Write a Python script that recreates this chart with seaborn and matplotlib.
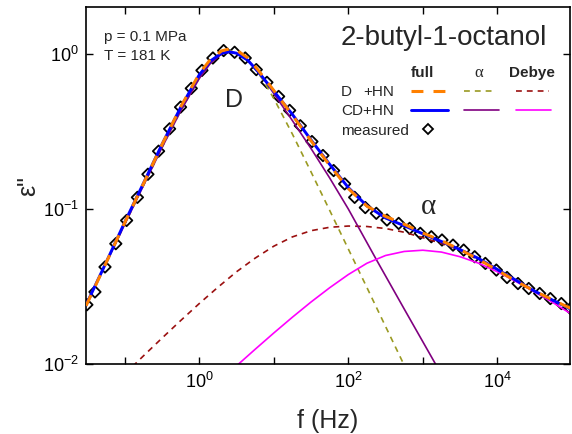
import numpy as np
import matplotlib
matplotlib.use("Agg")
import matplotlib.pyplot as plt
from matplotlib.lines import Line2D
from matplotlib.ticker import FixedLocator, FixedFormatter, NullLocator
import seaborn as sns

# ---- data: log10 of frequency (Hz) and log10 of dielectric loss ----
lg_f_meas = [-1.508, -1.400, -1.265, -1.120, -0.975, -0.830, -0.689, -0.546, -0.398, -0.251,
             -0.107, 0.036, 0.183, 0.327, 0.474, 0.617, 0.765, 0.908, 1.065, 1.213,
             1.356, 1.512, 1.660, 1.803, 1.951, 2.085, 2.228, 2.376, 2.519, 2.676,
             2.823, 2.966, 3.114, 3.257, 3.405, 3.548, 3.696, 3.839, 3.987, 4.130,
             4.277, 4.421, 4.568, 4.711, 4.859, 4.980]
lg_eps_meas = [-1.618, -1.535, -1.374, -1.224, -1.074, -0.925, -0.776, -0.627, -0.483, -0.343,
               -0.222, -0.106, -0.026, 0.022, 0.011, -0.026, -0.101, -0.183, -0.274, -0.364,
               -0.463, -0.565, -0.655, -0.752, -0.838, -0.925, -0.991, -1.028, -1.071, -1.093,
               -1.125, -1.157, -1.179, -1.200, -1.233, -1.265, -1.308, -1.351, -1.394, -1.442,
               -1.481, -1.513, -1.545, -1.578, -1.610, -1.642]

# full fits
lg_f_full = [-1.52, -1.25, -1.0, -0.75, -0.5, -0.25, 0.0, 0.15, 0.3, 0.4, 0.5, 0.65, 0.8, 1.0,
             1.25, 1.5, 1.75, 2.0, 2.25, 2.5, 2.75, 3.0, 3.25, 3.5, 3.75, 4.0, 4.25, 4.5, 4.75, 5.0]
lg_eps_full_d = [-1.625, -1.347, -1.088, -0.838, -0.585, -0.342, -0.128, -0.035, 0.020, 0.032,
                 0.025, -0.025, -0.110, -0.236, -0.395, -0.560, -0.718, -0.868, -0.982, -1.048,
                 -1.098, -1.155, -1.205, -1.262, -1.325, -1.395, -1.465, -1.530, -1.588, -1.645]
lg_eps_full_cd = [-1.620, -1.345, -1.085, -0.835, -0.583, -0.345, -0.135, -0.045, 0.005, 0.014,
                  0.005, -0.040, -0.120, -0.240, -0.390, -0.555, -0.712, -0.862, -0.980, -1.058,
                  -1.108, -1.160, -1.210, -1.262, -1.320, -1.390, -1.460, -1.530, -1.590, -1.650]

# main (D / CD) relaxation
lg_f_main_d = [-1.52, -1.25, -1.0, -0.75, -0.5, -0.25, 0.0, 0.15, 0.3, 0.42, 0.55, 0.7, 0.85,
               1.0, 1.25, 1.5, 1.75, 2.0, 2.25, 2.5, 2.75, 3.0]
lg_eps_main_d = [-1.618, -1.348, -1.099, -0.850, -0.604, -0.367, -0.156, -0.058, 0.005, 0.021,
                 0.002, -0.063, -0.164, -0.287, -0.517, -0.761, -1.009, -1.258, -1.507, -1.758,
                 -2.008, -2.258]
lg_f_main_cd = [-1.52, -1.25, -1.0, -0.75, -0.5, -0.25, 0.0, 0.15, 0.3, 0.42, 0.55, 0.7, 0.85,
                1.0, 1.25, 1.5, 1.75, 2.0, 2.385, 2.75, 3.17, 3.3]
lg_eps_main_cd = [-1.618, -1.348, -1.099, -0.850, -0.604, -0.368, -0.158, -0.060, 0.000, 0.015,
                  -0.002, -0.065, -0.150, -0.255, -0.430, -0.610, -0.800, -1.000, -1.334, -1.645,
                  -2.000, -2.110]

# secondary HN relaxation
lg_f_hn_d = [-1.0, -0.75, -0.5, -0.25, 0.0, 0.25, 0.5, 0.75, 1.0, 1.25, 1.5, 1.75, 2.0, 2.25,
             2.5, 2.75, 3.0, 3.25, 3.5, 3.75, 4.0, 4.25, 4.5, 4.75, 5.0]
lg_eps_hn_d = [-2.065, -1.948, -1.833, -1.720, -1.610, -1.505, -1.405, -1.317, -1.240, -1.180,
               -1.140, -1.118, -1.110, -1.113, -1.126, -1.150, -1.185, -1.222, -1.265, -1.330,
               -1.400, -1.465, -1.530, -1.590, -1.650]
lg_f_hn_cd = [0.5, 0.75, 1.0, 1.25, 1.5, 1.75, 2.0, 2.25, 2.5, 2.75, 3.0, 3.25, 3.5, 3.75, 4.0,
              4.25, 4.5, 4.75, 5.0]
lg_eps_hn_cd = [-2.012, -1.905, -1.800, -1.698, -1.600, -1.508, -1.423, -1.350, -1.300, -1.274,
                -1.266, -1.278, -1.308, -1.350, -1.405, -1.468, -1.535, -1.605, -1.680]

# ---- styling ----
sns.set_style("ticks")
plt.rcParams["font.family"] = ["Liberation Sans", "DejaVu Sans"]
plt.rcParams["mathtext.fontset"] = "custom"
plt.rcParams["mathtext.rm"] = "Liberation Sans"
plt.rcParams["mathtext.it"] = "Liberation Sans:italic"
plt.rcParams["mathtext.bf"] = "Liberation Sans:bold"

W, H = 572, 434
fig = plt.figure(figsize=(W / 100, H / 100), dpi=100)
fig.patch.set_facecolor("white")
ax = fig.add_axes([86 / W, 1 - 364 / H, 484 / W, 357 / H])
ax.set_xscale("log")
ax.set_yscale("log")


def px(x, y):
    return x / W, 1 - y / H


def curve(lgx, lgy, color, lw, dashes=None, z=2):
    sns.lineplot(x=10 ** np.asarray(lgx), y=10 ** np.asarray(lgy), ax=ax, sort=False,
                 estimator=None, color=color, linewidth=lw, zorder=z)
    line = ax.lines[-1]
    if dashes is not None:
        line.set_dashes(dashes)
        line.set_dash_capstyle("butt")
    return line


C_ORANGE = "#FF8000"
C_OLIVE = "#9A9A22"
C_DRED = "#9B1010"
C_BLUE = "#0000FF"
C_PURPLE = "#800080"
C_MAGENTA = "#FF00FF"

sns.scatterplot(x=10 ** np.asarray(lg_f_meas), y=10 ** np.asarray(lg_eps_meas), ax=ax,
                marker="D", s=34, zorder=1.5)
pts = ax.collections[-1]
pts.set_facecolor("none")
pts.set_edgecolor("black")
pts.set_linewidth(1.3)

curve(lg_f_main_d, lg_eps_main_d, C_OLIVE, 1.2, dashes=(3.5, 3), z=2)
curve(lg_f_hn_d, lg_eps_hn_d, C_DRED, 1.2, dashes=(3.5, 3), z=2)
curve(lg_f_main_cd, lg_eps_main_cd, C_PURPLE, 1.2, z=2.1)
curve(lg_f_hn_cd, lg_eps_hn_cd, C_MAGENTA, 1.2, z=2.1)
curve(lg_f_full, lg_eps_full_cd, C_BLUE, 2.1, z=3)
curve(lg_f_full, lg_eps_full_d, C_ORANGE, 2.2, dashes=(3.9, 3.3), z=3.5)

ax.set_xlim(10 ** -1.52, 10 ** 4.975)
ax.set_ylim(0.01, 10 ** 0.303)

ax.xaxis.set_major_locator(FixedLocator([1e-1, 1, 10, 100, 1e3, 1e4]))
ax.xaxis.set_major_formatter(FixedFormatter(["", "$10^0$", "", "$10^2$", "", "$10^4$"]))
ax.yaxis.set_major_locator(FixedLocator([0.01, 0.1, 1]))
ax.yaxis.set_major_formatter(FixedFormatter(["$10^{-2}$", "$10^{-1}$", "$10^0$"]))
ax.xaxis.set_minor_locator(NullLocator())
ax.yaxis.set_minor_locator(NullLocator())
ax.tick_params(which="major", direction="in", top=True, right=True, length=5, width=1.0,
               labelsize=13, colors="black")
ax.tick_params(axis="x", pad=6)
ax.tick_params(axis="y", pad=5)
for s in ax.spines.values():
    s.set_linewidth(1.2)
    s.set_color("black")
ax.set_xlabel("")
ax.set_ylabel("")

# axis titles
fig.text(*px(328, 421), "f (Hz)", fontsize=18, ha="center", va="center")
fig.text(*px(28, 186), "ε\"", fontsize=18, ha="center", va="center", rotation=90)

# annotations
fig.text(*px(104, 41), "p = 0.1 MPa", fontsize=11, ha="left", va="baseline")
fig.text(*px(104, 60), "T = 181 K", fontsize=11, ha="left", va="baseline")
fig.text(*px(341, 45), "2-butyl-1-octanol", fontsize=20, ha="left", va="baseline")
fig.text(*px(225, 107), "D", fontsize=18, ha="left", va="baseline")
fig.text(*px(421, 214), "α", fontsize=21, ha="left", va="baseline",
         family=["Liberation Serif", "DejaVu Serif"])

# legend table
fig.text(*px(411, 77), "full", fontsize=11, fontweight="bold", ha="left", va="baseline")
fig.text(*px(479, 77), "α", fontsize=12, ha="center", va="baseline",
         family=["Liberation Serif", "DejaVu Serif"])
fig.text(*px(509, 77), "Debye", fontsize=11, fontweight="bold", ha="left", va="baseline")
fig.text(*px(341, 96), "D", fontsize=11, ha="left", va="baseline")
fig.text(*px(363, 96), "+HN", fontsize=11, ha="left", va="baseline")
fig.text(*px(341, 115), "CD+HN", fontsize=11, ha="left", va="baseline")
fig.text(*px(341, 135), "measured", fontsize=11, ha="left", va="baseline")


def key(x0, x1, y, color, lw, dashes=None):
    (a0, b0), (a1, _) = px(x0, y), px(x1, y)
    ln = Line2D([a0, a1], [b0, b0], transform=fig.transFigure, color=color, lw=lw)
    if dashes is not None:
        ln.set_dashes(dashes)
        ln.set_dash_capstyle("butt")
    fig.add_artist(ln)


key(411, 447, 91, C_ORANGE, 2.2, (3.9, 3.3))
key(464, 496, 91, C_OLIVE, 1.2, (3.5, 3))
key(516, 549, 91, C_DRED, 1.2, (3.5, 3))
key(411, 448, 110, C_BLUE, 2.1)
key(464, 499, 110, C_PURPLE, 1.2)
key(516, 551, 110, C_MAGENTA, 1.2)
mx, my = px(428, 129)
fig.add_artist(Line2D([mx], [my], transform=fig.transFigure, marker="D", ms=5.5,
                      mfc="none", mec="black", mew=1.3, ls="none"))

fig.savefig("out.png", dpi=100, facecolor="white")
